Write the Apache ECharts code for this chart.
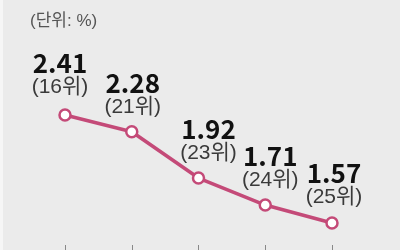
<!DOCTYPE html>
<html><head><meta charset="utf-8">
<script src="https://cdn.jsdelivr.net/npm/echarts@6/dist/echarts.min.js"></script>
<style>html,body{margin:0;padding:0;background:#fff}#c{width:400px;height:250px}</style>
</head><body><div id="c"></div>
<script>
var categories = ['1', '2', '3', '4', '5'];
var values = [2.41, 2.28, 1.92, 1.71, 1.57];
var ranks = ['(16위)', '(21위)', '(23위)', '(24위)', '(25위)'];
var unitText = '(단위: %)';
// label nudges (styling only)
var labelDx = [-5, 1, 10, 5, 2];
var labelDy = [0, 4, 3, 3, 2];

var chart = echarts.init(document.getElementById('c'), null, {renderer: 'canvas'});
var NARROW = '"Liberation Sans Narrow", "Noto Sans CJK KR", sans-serif';
var REG = 'Arial, "Liberation Sans", "Noto Sans CJK KR", sans-serif';
var seriesData = values.map(function (v, i) {
  return {value: v, label: {offset: [labelDx[i], labelDy[i]]}};
});
chart.setOption({
  backgroundColor: '#ebebeb',
  animation: false,
  graphic: [
    {type: 'rect', left: 0, top: 0, shape: {width: 3, height: 250}, style: {fill: '#f6f6f6'}},
    {type: 'text', left: 30, top: 13, style: {text: unitText, font: '17px ' + REG, fill: '#555'}}
  ],
  grid: {left: 65, right: 68, top: 0, bottom: 0},
  xAxis: {
    type: 'category', data: categories, boundaryGap: false,
    axisLine: {show: false},
    axisTick: {show: true, inside: true, length: 5, lineStyle: {color: '#888', width: 1}},
    axisLabel: {show: false}, splitLine: {show: false}
  },
  yAxis: {
    type: 'value', min: 1.36, max: 3.305,
    show: false, splitLine: {show: false}
  },
  series: [{
    type: 'line', data: seriesData,
    lineStyle: {color: '#c44a78', width: 3.5},
    symbol: 'circle', symbolSize: 11,
    itemStyle: {color: '#fff', borderColor: '#c44a78', borderWidth: 2.5},
    label: {
      show: true, position: 'top', distance: 10,
      fontSize: 21, fontFamily: REG, color: '#3a3a3a',
      formatter: function (p) { return '{v|' + values[p.dataIndex].toFixed(2) + '}\n{r|' + ranks[p.dataIndex] + '}'; },
      rich: {
        v: {fontFamily: NARROW, fontWeight: 'bold', fontSize: 26, color: '#111', lineHeight: 25, align: 'center'},
        r: {fontFamily: REG, fontWeight: 'normal', fontSize: 21, color: '#3a3a3a', lineHeight: 23, align: 'center'}
      }
    }
  }]
});
</script></body></html>
